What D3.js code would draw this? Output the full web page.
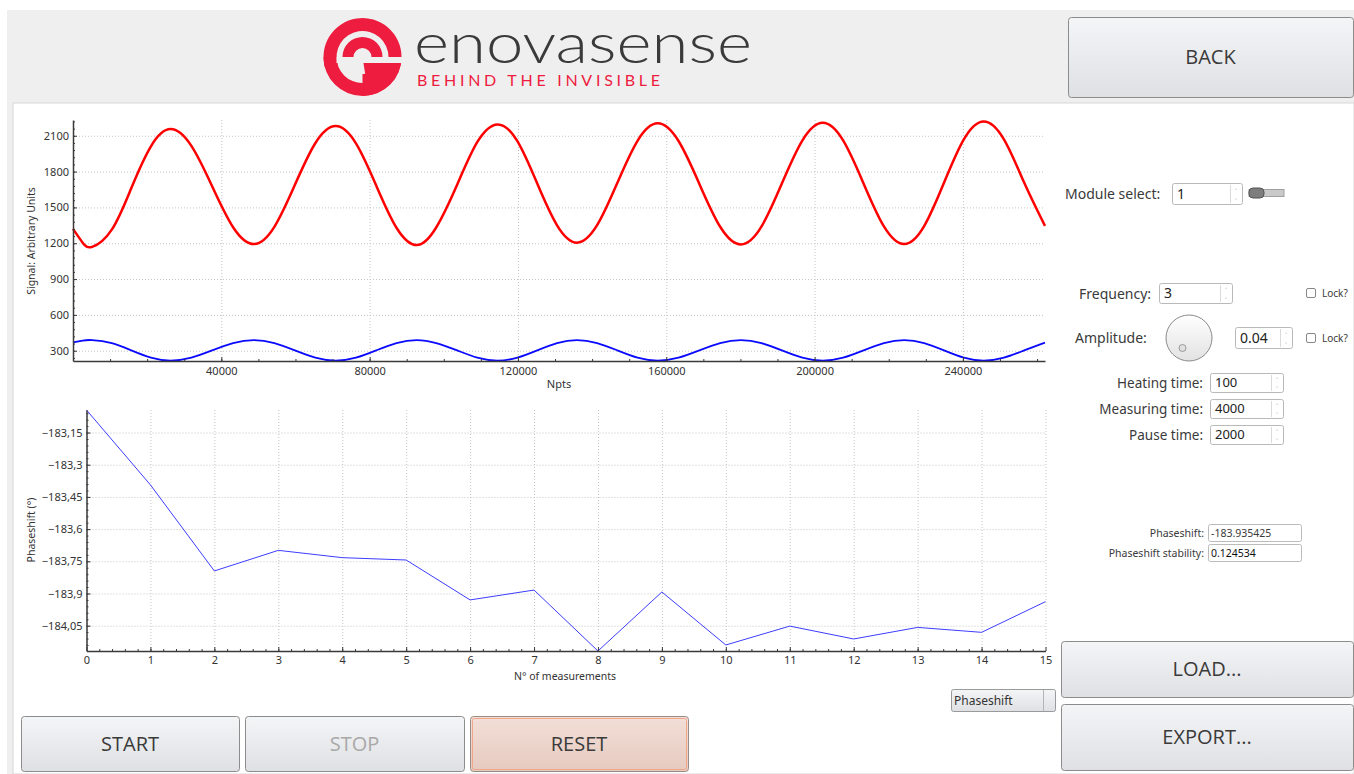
<!DOCTYPE html>
<html>
<head>
<meta charset="utf-8">
<script src="https://cdn.jsdelivr.net/npm/d3@7"></script>
<style>
  body { margin: 0; background: #fff; }
  svg { display: block; font-family: "Noto Sans", "Open Sans", sans-serif; }
</style>
</head>
<body>
<svg id="app" width="1354" height="774"></svg>
<script>
// signal plot: sample positions (Npts) and values
var npts = [0, 2600, 5180, 10460, 15740, 21020, 26300, 31925, 37550, 43175, 48800,
  54310, 59825, 65340, 70850, 76310, 81775, 87240, 92700, 97950, 103600, 109050, 114500,
  119850, 125200, 130550, 135900, 141350, 146800, 152250, 157700, 163310, 168925, 174540, 180150,
  185660, 191175, 196690, 202200, 207700, 213200, 218700, 224200, 229550, 234900, 240250, 245600,
  251075, 256550, 262144];
var signalRed = [1320, 1205, 1170, 1314, 1663, 2012, 2156, 2015, 1675, 1334, 1193,
  1337, 1687, 2037, 2181, 2036, 1683, 1330, 1185, 1332, 1690, 2048, 2195,
  2055, 1700, 1350, 1205, 1351, 1705, 2058, 2204, 2056, 1697, 1338, 1190,
  1339, 1700, 2060, 2209, 2061, 1701, 1341, 1193, 1343, 1706, 2070, 2220,
  2070, 1706, 1345];
var signalBlue = [370, 385, 389, 364, 303, 242, 217, 242, 303, 364, 389,
  364, 303, 242, 217, 242, 303, 364, 389, 364, 303, 242, 217,
  242, 303, 364, 389, 364, 303, 242, 217, 242, 303, 364, 389,
  364, 303, 242, 217, 242, 303, 364, 389, 364, 303, 242, 217,
  242, 303, 368];
var sigXTicks = [40000, 80000, 120000, 160000, 200000, 240000];
var sigYTicks = [300, 600, 900, 1200, 1500, 1800, 2100];

// phaseshift plot
var measurements = d3.range(0, 16);
var phaseshift = [-183.045, -183.394, -183.795, -183.699, -183.733, -183.744, -183.930, -183.884,
  -184.168, -183.893, -184.140, -184.052, -184.112, -184.058, -184.081, -183.938];
var phaseYTicks = [-183.15, -183.3, -183.45, -183.6, -183.75, -183.9, -184.05];

var svg = d3.select("#app");
var textCol = "#333";

// background panels
svg.append("rect").attr("x", 7).attr("y", 10).attr("width", 1347).attr("height", 764).attr("fill", "#efefef");
svg.append("rect").attr("x", 13).attr("y", 103).attr("width", 1341).attr("height", 671)
  .attr("fill", "#fff").attr("stroke", "#d8d8d8");

// gradients
var defs = svg.append("defs");
function grad(id, c1, c2) {
  var g = defs.append("linearGradient").attr("id", id).attr("x1", 0).attr("y1", 0).attr("x2", 0).attr("y2", 1);
  g.append("stop").attr("offset", "0%").attr("stop-color", c1);
  g.append("stop").attr("offset", "100%").attr("stop-color", c2);
}
grad("btn", "#f4f5f7", "#dfe0e3");
grad("btnReset", "#f3dfd8", "#e5cabf");
grad("dial", "#ffffff", "#e2e2e2");

// logo
var logo = svg.append("g").attr("transform", "translate(362.5,57)");
var red = "#ee1c3e";
var arc = d3.arc();
logo.append("path").attr("fill", red)
  .attr("d", arc({innerRadius: 26, outerRadius: 39, startAngle: -Math.PI / 2 - 0.3, endAngle: Math.PI / 2}));
logo.append("path").attr("fill", red)
  .attr("d", arc({innerRadius: 9, outerRadius: 20, startAngle: -Math.PI / 2, endAngle: Math.PI / 2}));
logo.append("path").attr("fill", red)
  .attr("d", arc({innerRadius: 26, outerRadius: 39, startAngle: Math.PI / 2, endAngle: 3 * Math.PI / 2}));
logo.append("path").attr("fill", red)
  .attr("d", arc({innerRadius: 0, outerRadius: 39, startAngle: Math.PI / 2, endAngle: Math.PI}));
logo.append("path").attr("fill", "#efefef")
  .attr("d", arc({innerRadius: 0, outerRadius: 17, startAngle: Math.PI * 0.95, endAngle: Math.PI * 1.5}));
logo.append("rect").attr("x", -26).attr("y", 0).attr("width", 66).attr("height", 6).attr("fill", "#efefef");

svg.append("text").attr("x", 414).attr("y", 63).attr("font-family", "Lato, 'Open Sans', sans-serif")
  .attr("font-weight", 300).attr("font-size", 56).attr("fill", "#3a3a3a")
  .attr("textLength", 338).attr("lengthAdjust", "spacingAndGlyphs").text("enovasense");
svg.append("text").attr("x", 417).attr("y", 86).attr("font-family", "Lato, 'Open Sans', sans-serif")
  .attr("font-size", 16).attr("fill", red)
  .attr("textLength", 243).attr("lengthAdjust", "spacing").text("BEHIND THE INVISIBLE");

// buttons
function button(x, y, w, h, label, opts) {
  opts = opts || {};
  var g = svg.append("g");
  g.append("rect").attr("x", x + 0.5).attr("y", y + 0.5).attr("width", w).attr("height", h).attr("rx", 3)
    .attr("fill", opts.fill || "url(#btn)").attr("stroke", opts.stroke || "#8c8c8c");
  if (opts.inner) {
    g.append("rect").attr("x", x + 2.5).attr("y", y + 2.5).attr("width", w - 4).attr("height", h - 4).attr("rx", 2)
      .attr("fill", "none").attr("stroke", opts.inner);
  }
  g.append("text").attr("x", x + w / 2).attr("y", y + h / 2 + 7).attr("text-anchor", "middle")
    .attr("font-size", opts.size || 20).attr("fill", opts.color || "#3a3a3a")
    .attr("font-family", "'Liberation Sans Narrow', 'Open Sans', sans-serif").text(label);
}
button(1068, 17, 285, 80, "BACK");
button(1061, 641, 292, 56, "LOAD...");
button(1061, 704, 292, 66, "EXPORT...");
button(21, 716, 218, 55, "START");
button(245, 716, 219, 55, "STOP", {color: "#a8a8a8"});
button(470, 716, 218, 55, "RESET", {fill: "url(#btnReset)", stroke: "#9a8a84", inner: "#f0a689"});

// combobox
svg.append("rect").attr("x", 951.5).attr("y", 689.5).attr("width", 104).attr("height", 22).attr("rx", 2)
  .attr("fill", "url(#btn)").attr("stroke", "#9a9a9a");
svg.append("line").attr("x1", 1043.5).attr("x2", 1043.5).attr("y1", 690).attr("y2", 711).attr("stroke", "#b5b5b5");
svg.append("text").attr("x", 954).attr("y", 705).attr("font-size", 12).attr("fill", "#333").text("Phaseshift");

// ---------- signal plot ----------
var sp = {left: 73, right: 1045, top: 120, bottom: 361};
var sx = d3.scaleLinear().domain([0, 262144]).range([sp.left, sp.right]);
var sy = d3.scaleLinear().domain([214, 2232]).range([sp.bottom, sp.top]);

function styleGrid(g) {
  g.select(".domain").remove();
  g.selectAll("line").attr("stroke", "#c4c4c4").attr("stroke-dasharray", "1,2");
}
function styleAxis(g) {
  g.select(".domain").attr("stroke", "#3a3a3a").attr("stroke-width", 1.5);
  g.selectAll(".tick line").attr("stroke", "#3a3a3a");
  g.selectAll("text").attr("font-size", 11).attr("fill", textCol).attr("font-family", "'Noto Sans', sans-serif");
}
function minor(g) {
  g.select(".domain").remove();
  g.selectAll("line").attr("stroke", "#3a3a3a");
}

svg.append("g").attr("transform", "translate(0," + sp.bottom + ")")
  .call(d3.axisBottom(sx).tickValues(sigXTicks).tickSize(-(sp.bottom - sp.top)).tickFormat("")).call(styleGrid);
svg.append("g").attr("transform", "translate(" + sp.left + ",0)")
  .call(d3.axisLeft(sy).tickValues(sigYTicks).tickSize(-(sp.right - sp.left)).tickFormat("")).call(styleGrid);

var sigLine = function(vals) {
  return d3.line().x(function(d, i) { return sx(npts[i]); }).y(function(d) { return sy(d); })
    .curve(d3.curveNatural)(vals);
};
svg.append("path").attr("d", sigLine(signalBlue)).attr("fill", "none").attr("stroke", "#0a0aff").attr("stroke-width", 1.8);
svg.append("path").attr("d", sigLine(signalRed)).attr("fill", "none").attr("stroke", "#ff0000").attr("stroke-width", 2.5);

svg.append("g").attr("transform", "translate(0," + sp.bottom + ")")
  .call(d3.axisBottom(sx).tickValues(d3.range(10000, 262144, 10000)).tickSize(-2).tickFormat("")).call(minor);
svg.append("g").attr("transform", "translate(" + sp.left + ",0)")
  .call(d3.axisLeft(sy).tickValues(d3.range(240, 2232, 60)).tickSize(-2).tickFormat("")).call(minor);
svg.append("g").attr("transform", "translate(0," + sp.bottom + ")")
  .call(d3.axisBottom(sx).tickValues(sigXTicks).tickSize(-4).tickPadding(6).tickSizeOuter(0).tickFormat(d3.format("d"))).call(styleAxis);
svg.append("g").attr("transform", "translate(" + sp.left + ",0)")
  .call(d3.axisLeft(sy).tickValues(sigYTicks).tickSize(-4).tickPadding(4).tickSizeOuter(0).tickFormat(d3.format("d"))).call(styleAxis);

svg.append("text").attr("x", 559).attr("y", 388).attr("text-anchor", "middle").attr("font-size", 11)
  .attr("fill", textCol).text("Npts");
svg.append("text").attr("transform", "translate(35,241) rotate(-90)").attr("text-anchor", "middle")
  .attr("font-size", 10.5).attr("fill", textCol).text("Signal: Arbitrary Units");

// ---------- phaseshift plot ----------
var pp = {left: 86.5, right: 1045.5, top: 410, bottom: 651};
var px = d3.scaleLinear().domain([0, 15]).range([pp.left, pp.right]);
var py = d3.scaleLinear().domain(d3.extent(phaseshift)).range([pp.bottom, pp.top]);
var comma = function(d) { return d3.format("")(+d.toFixed(2)).replace(".", ","); };

svg.append("g").attr("transform", "translate(0," + pp.bottom + ")")
  .call(d3.axisBottom(px).tickValues(measurements).tickSize(-(pp.bottom - pp.top)).tickFormat("")).call(styleGrid);
svg.append("g").attr("transform", "translate(" + pp.left + ",0)")
  .call(d3.axisLeft(py).tickValues(phaseYTicks).tickSize(-(pp.right - pp.left)).tickFormat("")).call(styleGrid);

svg.append("path")
  .attr("d", d3.line().x(function(d, i) { return px(measurements[i]); }).y(function(d) { return py(d); })(phaseshift))
  .attr("fill", "none").attr("stroke", "#3d3dff").attr("stroke-width", 1);

svg.append("g").attr("transform", "translate(0," + pp.bottom + ")")
  .call(d3.axisBottom(px).tickValues(d3.range(0.2, 15, 0.2)).tickSize(-2).tickFormat("")).call(minor);
svg.append("g").attr("transform", "translate(" + pp.left + ",0)")
  .call(d3.axisLeft(py).tickValues(d3.range(-184.14, -183.05, 0.03)).tickSize(-2).tickFormat("")).call(minor);
svg.append("g").attr("transform", "translate(0," + pp.bottom + ")")
  .call(d3.axisBottom(px).tickValues(measurements).tickSize(-4).tickPadding(5).tickSizeOuter(0).tickFormat(d3.format("d"))).call(styleAxis);
svg.append("g").attr("transform", "translate(" + pp.left + ",0)")
  .call(d3.axisLeft(py).tickValues(phaseYTicks).tickSize(-4).tickPadding(4).tickSizeOuter(0).tickFormat(comma)).call(styleAxis);

svg.append("text").attr("x", 565).attr("y", 680).attr("text-anchor", "middle").attr("font-size", 10.5)
  .attr("fill", textCol).text("N° of measurements");
svg.append("text").attr("transform", "translate(35,530) rotate(-90)").attr("text-anchor", "middle")
  .attr("font-size", 10.5).attr("fill", textCol).text("Phaseshift (°)");

// ---------- right-hand controls ----------
function spin(x, y, w, h, val, fs) {
  svg.append("rect").attr("x", x + 0.5).attr("y", y + 0.5).attr("width", w).attr("height", h).attr("rx", 2)
    .attr("fill", "#fff").attr("stroke", "#b9b9b9");
  svg.append("line").attr("x1", x + w - 11.5).attr("x2", x + w - 11.5).attr("y1", y + 2).attr("y2", y + h - 1)
    .attr("stroke", "#dadada");
  svg.append("text").attr("x", x + w - 6).attr("y", y + h / 2 - 1).attr("text-anchor", "middle")
    .attr("font-size", 6).attr("fill", "#777").text("˄");
  svg.append("text").attr("x", x + w - 6).attr("y", y + h - 1).attr("text-anchor", "middle")
    .attr("font-size", 6).attr("fill", "#777").text("˅");
  svg.append("text").attr("x", x + 5).attr("y", y + h / 2 + fs * 0.36).attr("font-size", fs)
    .attr("fill", "#222").text(val);
}
function label(x, y, txt, fs, anchor) {
  svg.append("text").attr("x", x).attr("y", y).attr("font-size", fs).attr("fill", "#3a3a3a")
    .attr("text-anchor", anchor || "start").text(txt);
}
function check(x, y) {
  svg.append("rect").attr("x", x + 0.5).attr("y", y + 0.5).attr("width", 9).attr("height", 9).attr("rx", 1.5)
    .attr("fill", "#fff").attr("stroke", "#888");
  label(x + 16, y + 9, "Lock?", 10);
}

label(1065, 199, "Module select:", 14);
spin(1172, 183, 70, 21, "1", 14);
svg.append("rect").attr("x", 1249).attr("y", 189.5).attr("width", 35).attr("height", 7).attr("fill", "#c9c9c9").attr("stroke", "#a0a0a0");
svg.append("rect").attr("x", 1249).attr("y", 188).attr("width", 15).attr("height", 10).attr("rx", 4).attr("fill", "#7d7d7d").attr("stroke", "#555");

label(1079, 299, "Frequency:", 14);
spin(1159, 283, 73, 20, "3", 14);
check(1306, 288);

label(1075, 343, "Amplitude:", 14);
svg.append("circle").attr("cx", 1189).attr("cy", 338).attr("r", 23).attr("fill", "url(#dial)").attr("stroke", "#8a8a8a");
svg.append("circle").attr("cx", 1182.5).attr("cy", 348).attr("r", 3.5).attr("fill", "#e0e0e0").attr("stroke", "#999");
spin(1235, 327, 57, 21, "0.04", 14);
check(1306, 333);

label(1203, 388, "Heating time:", 13.5, "end");
spin(1210, 373, 73, 19, "100", 13);
label(1203, 414, "Measuring time:", 13.5, "end");
spin(1210, 399, 73, 19, "4000", 13);
label(1203, 440, "Pause time:", 13.5, "end");
spin(1210, 425, 73, 19, "2000", 13);

label(1204, 537, "Phaseshift:", 10.5, "end");
svg.append("rect").attr("x", 1208.5).attr("y", 524.5).attr("width", 93).attr("height", 17).attr("rx", 2).attr("fill", "#fff").attr("stroke", "#bbb");
label(1211, 537, "-183.935425", 10.5);
label(1204, 557, "Phaseshift stability:", 10.5, "end");
svg.append("rect").attr("x", 1208.5).attr("y", 544.5).attr("width", 93).attr("height", 17).attr("rx", 2).attr("fill", "#fff").attr("stroke", "#bbb");
svg.append("text").attr("x", 1211).attr("y", 557).attr("font-size", 10.5).attr("fill", "#111").text("0.124534");
</script>
</body>
</html>
